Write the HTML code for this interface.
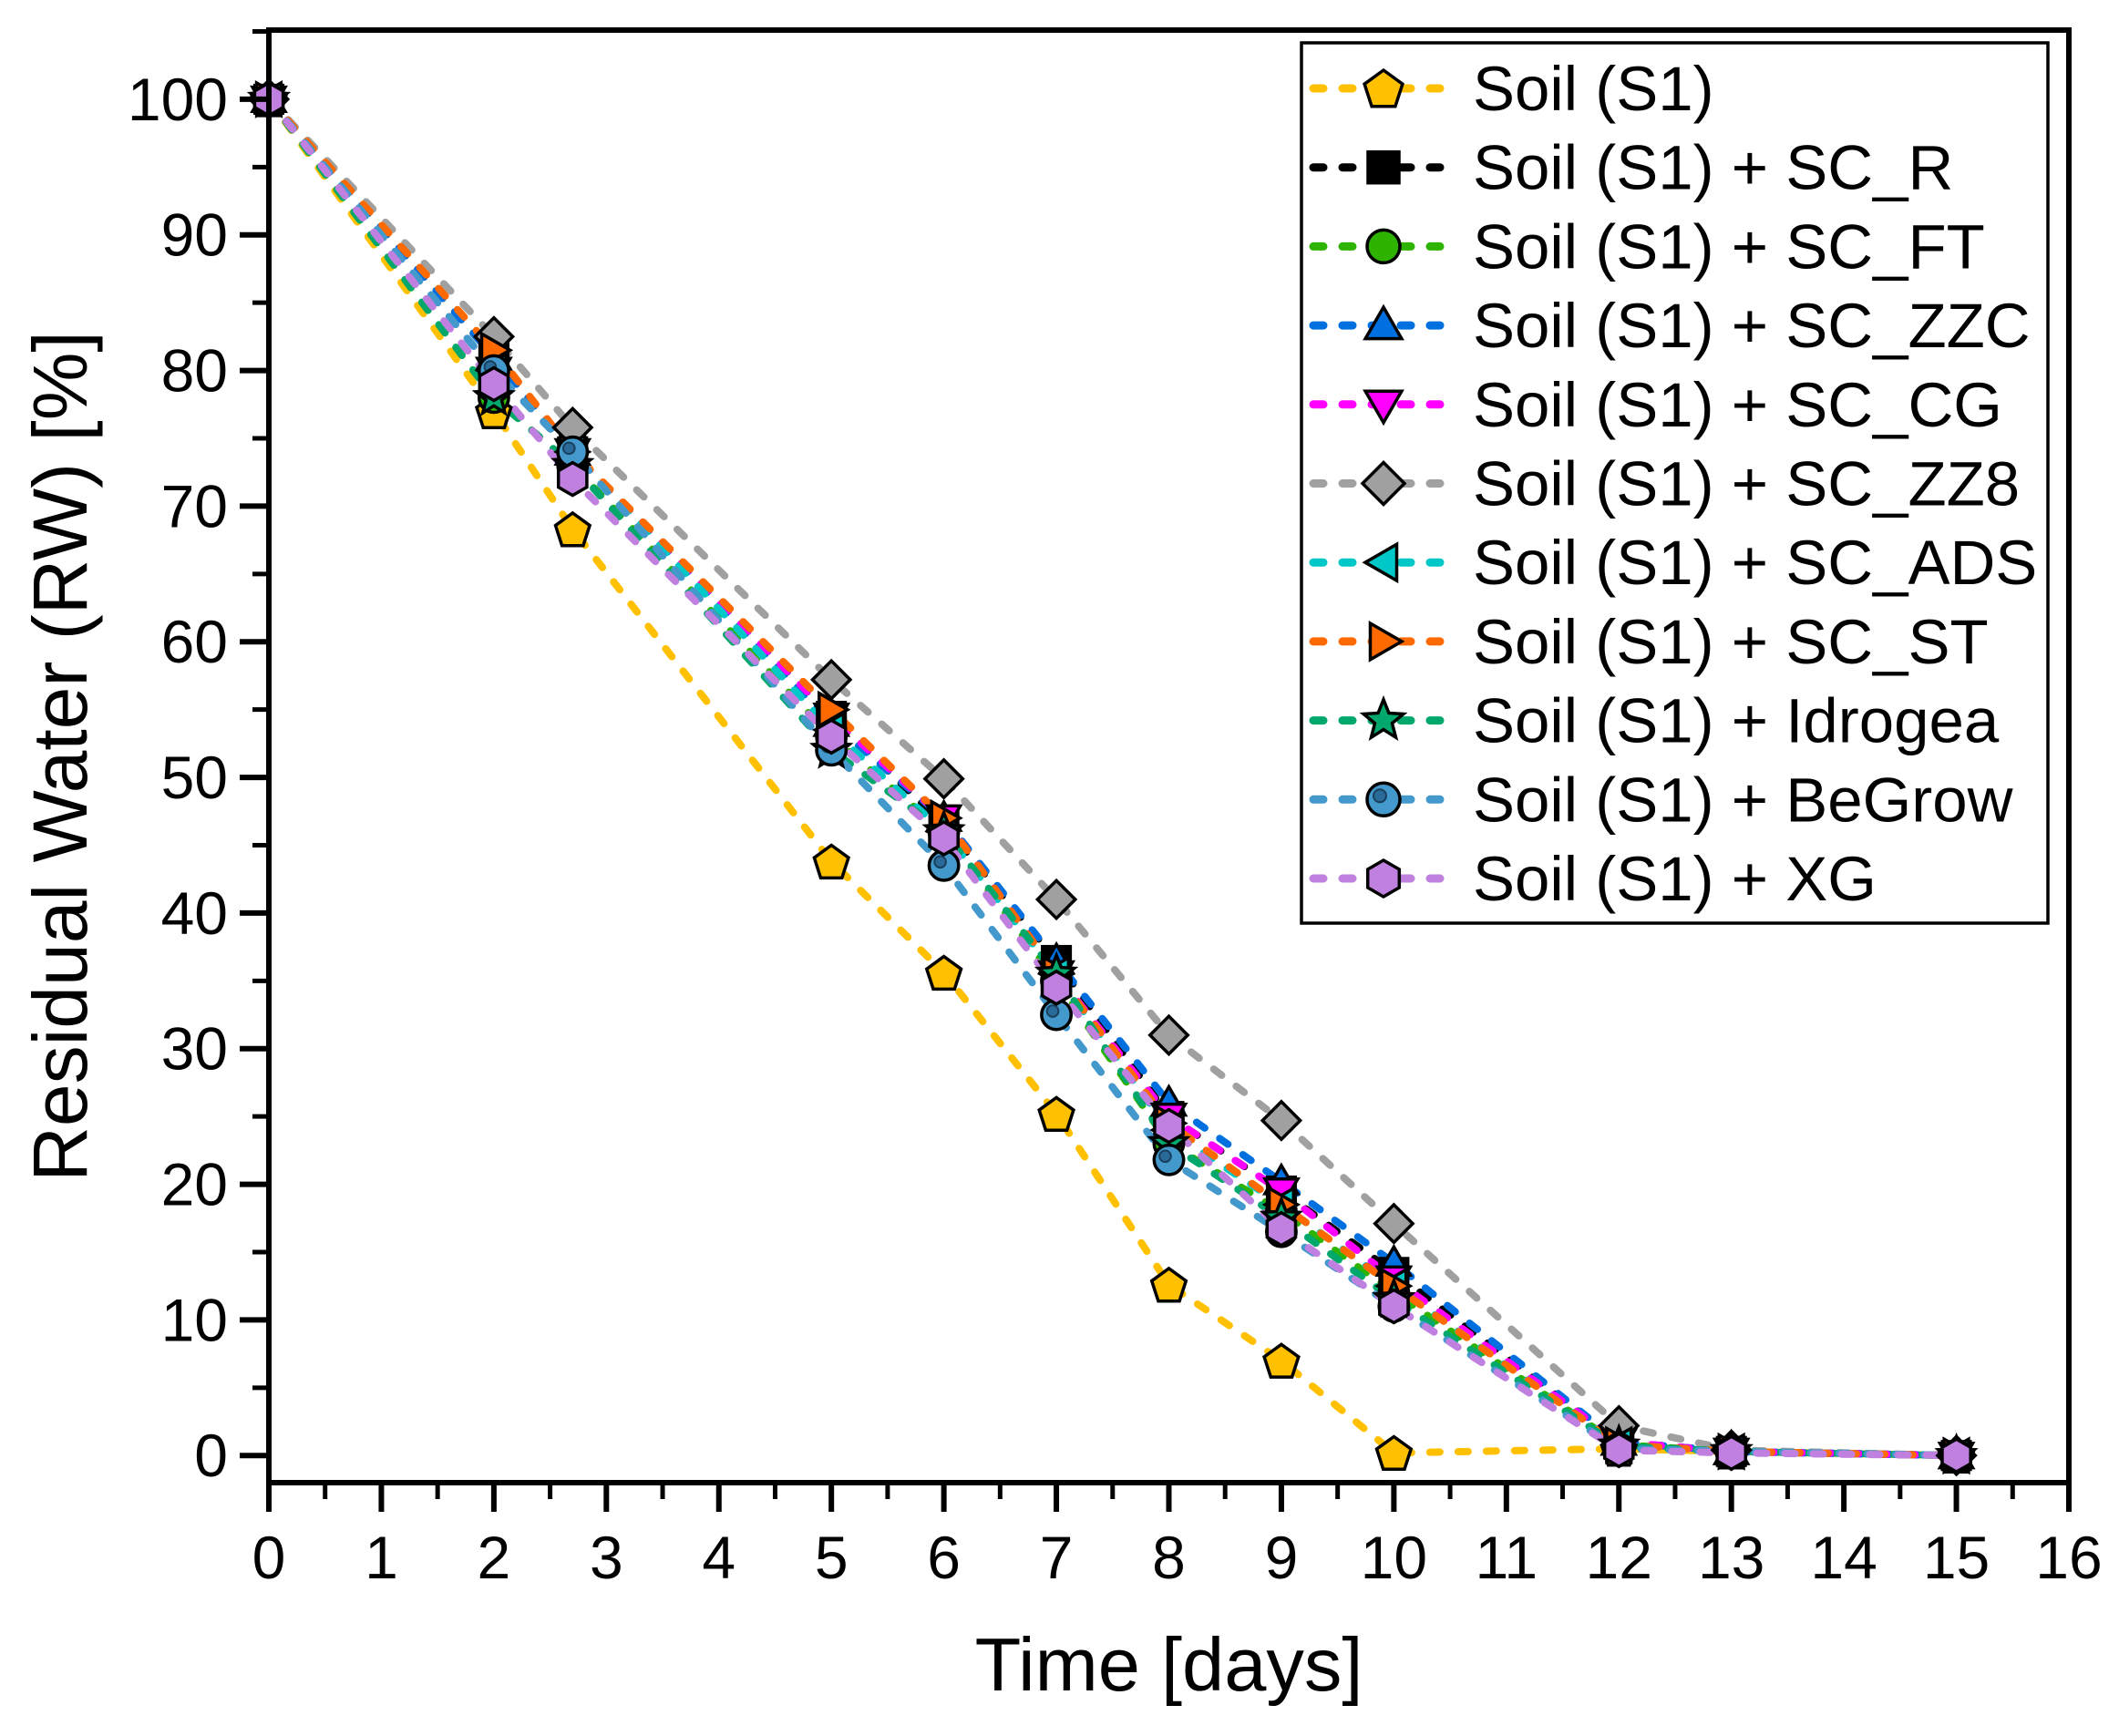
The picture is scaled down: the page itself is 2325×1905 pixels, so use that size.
<!DOCTYPE html>
<html><head><meta charset="utf-8"><style>
html,body{margin:0;padding:0;background:#fff;}
svg{display:block;font-family:"Liberation Sans",Arial,sans-serif;}
</style></head><body>
<svg id="chart" width="2325" height="1905" viewBox="0 0 2325 1905" xmlns="http://www.w3.org/2000/svg">
<g id="series-layer"></g>
<g id="axes-layer"></g>
<g id="legend-layer"></g>
</svg>
<script>
const days = [0, 2, 2.7, 5, 6, 7, 8, 9, 10, 12, 13, 15];
const seriesNames = ["Soil (S1)", "Soil (S1) + SC_R", "Soil (S1) + SC_FT", "Soil (S1) + SC_ZZC", "Soil (S1) + SC_CG", "Soil (S1) + SC_ZZ8", "Soil (S1) + SC_ADS", "Soil (S1) + SC_ST", "Soil (S1) + Idrogea", "Soil (S1) + BeGrow", "Soil (S1) + XG"];
const s1 = [100, 77, 68.3, 43.8, 35.6, 25.2, 12.6, 7.0, 0.2, 0.5, 0.3, 0];
const scR = [100, 81, 74, 54.5, 46.5, 36.5, 25, 19.5, 13.5, 1, 0.3, 0];
const scFT = [100, 78, 73, 53, 46, 35, 23, 18, 12, 0.8, 0.3, 0];
const scZZC = [100, 81, 74, 54, 47, 36.5, 26, 20.2, 14.2, 1, 0.3, 0];
const scCG = [100, 80, 74, 54.5, 47, 35.5, 25, 19.5, 13, 1, 0.3, 0];
const scZZ8 = [100, 82.5, 75.8, 57.2, 49.9, 41, 31, 24.7, 17.1, 2.2, 0.4, 0];
const scADS = [100, 80, 74, 53.5, 46, 35.5, 24, 18.5, 12.5, 0.8, 0.3, 0];
const scST = [100, 81.5, 74, 55, 47, 35.5, 24.5, 18.5, 12.5, 0.8, 0.3, 0];
const idrogea = [100, 78, 73, 52, 46, 35.5, 23, 17.5, 11.5, 0.7, 0.3, 0];
const beGrow = [100, 80, 74, 52, 43.5, 32.5, 21.8, 16.5, 11, 0.5, 0.3, 0];
const xg = [100, 79, 72, 53, 45.5, 34.5, 24.3, 16.7, 11, 0.4, 0.2, 0];
const xTicks = [0,1,2,3,4,5,6,7,8,9,10,11,12,13,14,15,16];
const yTicks = [0,10,20,30,40,50,60,70,80,90,100];

const allSeries = [s1, scR, scFT, scZZC, scCG, scZZ8, scADS, scST, idrogea, beGrow, xg];
const colors = ["#FFC000","#000000","#2DB300","#0070E0","#FF00FF","#A0A0A0","#00C8C8","#FF6A00","#00A86B","#4499CC","#C080E0"];
const shapes = ["pentagon","square","circle","triUp","triDown","diamond","triLeft","triRight","star","ringCircle","hexagon"];
const slugs = ["soil-s1","sc-r","sc-ft","sc-zzc","sc-cg","sc-zz8","sc-ads","sc-st","idrogea","begrow","xg"];

const L = 295, R = 2270, T = 33, B = 1627;
const xMin = 0, xMax = 16, yMin = -2, yMax = 105.1;
const xs = v => L + (v - xMin) / (xMax - xMin) * (R - L);
const ys = v => B - (v - yMin) / (yMax - yMin) * (B - T);
const NS = "http://www.w3.org/2000/svg";
function mk(tag, attrs, parent){ const e=document.createElementNS(NS,tag); for(const k in attrs) e.setAttribute(k,attrs[k]); parent.appendChild(e); return e; }

function poly(n, r, cx, cy, rot){ const p=[]; for(let i=0;i<n;i++){const a=rot+i*2*Math.PI/n; p.push((cx+r*Math.cos(a)).toFixed(1)+","+(cy+r*Math.sin(a)).toFixed(1));} return p.join(" "); }
function marker(shape, cx, cy, color, parent, r){
  const st={fill:color,stroke:"#000","stroke-width":3.5,"stroke-linejoin":"miter"};
  let e;
  if(shape==="pentagon") e=mk("polygon",Object.assign({points:poly(5,r*1.1,cx,cy+2,-Math.PI/2)},st),parent);
  else if(shape==="square") e=mk("rect",Object.assign({x:cx-r*0.85,y:cy-r*0.85,width:r*1.7,height:r*1.7},st),parent);
  else if(shape==="circle") e=mk("circle",Object.assign({cx:cx,cy:cy,r:r*0.9},st),parent);
  else if(shape==="triUp") e=mk("polygon",Object.assign({points:poly(3,r*1.15,cx,cy+3,-Math.PI/2)},st),parent);
  else if(shape==="triDown") e=mk("polygon",Object.assign({points:poly(3,r*1.15,cx,cy-3,Math.PI/2)},st),parent);
  else if(shape==="triLeft") e=mk("polygon",Object.assign({points:poly(3,r*1.15,cx+3,cy,Math.PI)},st),parent);
  else if(shape==="triRight") e=mk("polygon",Object.assign({points:poly(3,r*1.15,cx-3,cy,0)},st),parent);
  else if(shape==="diamond") e=mk("polygon",Object.assign({points:poly(4,r*1.15,cx,cy,0)},st),parent);
  else if(shape==="hexagon") e=mk("polygon",Object.assign({points:poly(6,r,cx,cy,-Math.PI/2)},st),parent);
  else if(shape==="star"){ const p=[]; for(let i=0;i<10;i++){const a=-Math.PI/2+i*Math.PI/5; const rr=i%2?r*0.5:r*1.15; p.push((cx+rr*Math.cos(a)).toFixed(1)+","+(cy+rr*Math.sin(a)).toFixed(1));} e=mk("polygon",Object.assign({points:p.join(" ")},st),parent); }
  else if(shape==="ringCircle"){ e=mk("g",{},parent); mk("circle",Object.assign({cx:cx,cy:cy,r:r*0.9},st),e); mk("circle",{cx:cx-4,cy:cy-4,r:r*0.35,fill:"#2a6a99",stroke:"#1a3f5c","stroke-width":2},e); }
  return e;
}

const sl = document.getElementById("series-layer");
allSeries.forEach((vals, si) => {
  const g = mk("g", {}, sl);
  
  
  const d = vals.map((v,i)=>(i?"L":"M")+xs(days[i]).toFixed(1)+" "+ys(v).toFixed(1)).join(" ");
  const line = mk("path",{d:d,fill:"none",stroke:colors[si],"stroke-width":8,"stroke-dasharray":"11 20","stroke-linecap":"round"},g);
  
  
});
allSeries.forEach((vals, si) => {
  const g = mk("g", {}, sl);
  
  
  vals.forEach((v,i)=>{
    const m = marker(shapes[si], xs(days[i]), ys(v), colors[si], g, 18);
    
    
  });
});

const ax = document.getElementById("axes-layer");
const frame = mk("rect",{x:L,y:T,width:R-L,height:B-T,fill:"none",stroke:"#000","stroke-width":6},ax);


xTicks.forEach(t=>{
  const x=xs(t);
  const tk = mk("line",{x1:x,y1:B,x2:x,y2:B+32,stroke:"#000","stroke-width":6},ax);
  
  
  if(t<16){ const mn = mk("line",{x1:xs(t+0.5),y1:B,x2:xs(t+0.5),y2:B+18,stroke:"#000","stroke-width":5},ax);
    
     }
  const lb = mk("text",{x:x,y:B+105,"font-size":66,"text-anchor":"middle"},ax);
  lb.textContent = t;
  
  
});
yTicks.forEach(t=>{
  const y=ys(t);
  const tk = mk("line",{x1:L-32,y1:y,x2:L,y2:y,stroke:"#000","stroke-width":6},ax);
  
  
  const mn = mk("line",{x1:L-18,y1:ys(t+5),x2:L,y2:ys(t+5),stroke:"#000","stroke-width":5},ax);
  
  
  const lb = mk("text",{x:L-45,y:y+23,"font-size":66,"text-anchor":"end"},ax);
  lb.textContent = t;
  
  
});
const xt = mk("text",{x:(L+R)/2,y:1855,"font-size":83,"text-anchor":"middle"},ax);
xt.textContent = "Time [days]";


const yt = mk("text",{x:0,y:0,"font-size":84,"text-anchor":"middle",transform:"translate(95 "+((T+B)/2)+") rotate(-90)"},ax);
yt.textContent = "Residual Water (RW) [%]";



const lg = document.getElementById("legend-layer");
const box = mk("rect",{x:1428,y:47,width:819,height:966,fill:"#fff",stroke:"#000","stroke-width":3.5},lg);


seriesNames.forEach((nm,si)=>{
  const cy = 97 + si*86.7;
  const g = mk("g",{},lg);
  
  
  mk("line",{x1:1441,y1:cy,x2:1597,y2:cy,stroke:colors[si],"stroke-width":9,"stroke-dasharray":"11 21","stroke-linecap":"round"},g);
  marker(shapes[si],1518,cy,colors[si],g,20);
  const tx = mk("text",{x:1616,y:cy+24,"font-size":69},g);
  tx.textContent = nm;
  
  
});
</script>
</body></html>
